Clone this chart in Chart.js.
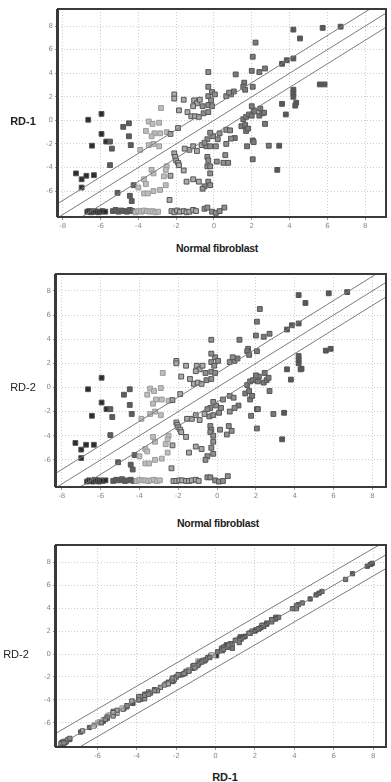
<!DOCTYPE html>
<html>
<head>
<meta charset="utf-8">
<script src="https://cdn.jsdelivr.net/npm/chart.js@4"></script>
<style>
  body { margin: 0; background: #fff; width: 391px; height: 782px; position: relative; overflow: hidden; }
  canvas { position: absolute; left: 0; }
  .lbl { position: absolute; font-family: "Liberation Sans", Arial, sans-serif; color: #222; white-space: nowrap; transform: translate(-50%, -50%); }
  .b { font-weight: bold; }
</style>
</head>
<body>
<canvas id="c1" width="391" height="235" style="top:0px"></canvas>
<canvas id="c2" width="391" height="240" style="top:265px"></canvas>
<canvas id="c3" width="391" height="229" style="top:536px"></canvas>

<div class="lbl b" style="left:23px;top:121px;font-size:11px">RD-1</div>
<div class="lbl b" style="left:217px;top:248px;font-size:10.5px;letter-spacing:-0.3px">Normal fibroblast</div>
<div class="lbl" style="left:23px;top:387px;font-size:11px">RD-2</div>
<div class="lbl b" style="left:218px;top:523px;font-size:10.5px;letter-spacing:-0.3px">Normal fibroblast</div>
<div class="lbl" style="left:16px;top:654px;font-size:11px">RD-2</div>
<div class="lbl b" style="left:225px;top:777px;font-size:11px">RD-1</div>

<script>
// genes: value in normal fibroblast, RD-1, RD-2
const normal = [
  -6.65, -5.95, -5.95, -5.7, -5.5, -5.4, -6.45, -5.5, -7.3, -7.0, -6.75, -6.35, -7.0,
  -4.8, -4.5, -4.5, -4.4, -3.9, -4.25, -5.1, -4.45, -4.35,
  -3.45, -3.25, -2.9, -3.6, -3.15, -2.85, -3.3, -2.5, -2.3, -1.9,
  -3.45, -3.2, -2.9, -2.1, -2.05, -2.0, -1.9, -1.85, -2.5, -2.55,
  -2.3, -2.55, -2.65, -3.3, -3.2, -3.7, -3.6, -3.2, -2.85, -4.0, -3.7, -3.5, -2.35,
  -2.8, -2.1, -2.1, -1.6, -1.85, -1.4, -1.2, -1.0, -0.8, -0.55,
  -0.3, -1.05, -0.9, -0.6, -0.3, -0.1, -1.1, -0.75, -0.3, -0.1, -0.3, -0.3, 0.05, -0.15,
  0.65, 0.9, 1.05, 0.8, 1.15, 1.6, 1.55, 1.65, 2.05, 2.0,
  2.4, 2.7, 2.05, 2.2, 3.6, 3.85, 4.2, 4.2, 4.55, 5.75,
  6.7, 5.6, 5.85, 4.2, 4.2, 4.2, 4.35, 4.3, 3.6, 3.8,
  0.3, 0.65, 0.85, 1.1, 0.9, 1.45, 1.65, 1.7, 1.8, 1.55,
  1.7, 1.85, 2.0, 2.1, 2.15, 2.0, 2.4, 2.55, 2.65, 2.45,
  2.7, 2.05, 2.1, 1.75, 2.05, 2.9, 3.45, 3.35, 0.65, 0.6, 0.15, 0.5, 0.75,
  -1.3, -1.1, -0.9, -0.65, -0.4, -0.2, 0.1, 0.2, -0.05, -0.35,
  -0.2, -0.5, -1.55, -0.35, -0.3, -0.35, -0.2, -0.2, -0.3, -0.2,
  -0.5, -0.6, -1.6, -1.45, -1.1, -0.8,
  -6.7, -6.6, -6.5, -6.4, -6.3, -6.2, -6.1, -6.0, -5.9, -5.75,
  -5.35, -5.2, -5.05, -4.9, -4.75, -4.6, -4.45, -4.3, -4.15, -4.0,
  -3.85, -3.7, -3.55, -3.4, -3.25, -3.1, -2.95,
  -2.25, -2.1, -1.95, -1.8, -1.6, -1.45, -1.3, -1.1, -0.95,
  -0.5, -0.35, -0.1, 0.1, 0.3, 0.55
];
const rd1 = [
  0.05, 0.55, -1.15, -1.8, -1.8, -2.4, -2.15, -3.8, -4.5, -5.0, -4.7, -4.65, -5.7,
  -0.55, -0.25, -1.35, -2.1, -2.5, -5.5, -6.15, -6.4, -6.85,
  -0.1, -0.3, -0.2, -0.9, -1.1, -1.1, -1.35, -1.0, -1.15, -0.65,
  -2.1, -2.0, -2.2, -2.8, -3.1, -3.4, -3.6, -3.8, -3.9, -4.2,
  -4.7, -5.5, -4.75, -4.2, -4.5, -5.0, -5.4, -6.0, -5.9, -5.7, -6.2, -6.2, -6.75,
  1.05, 2.2, 1.85, 1.75, 0.85, 0.7, 0.35, 0.35, 0.3, 0.6,
  0.7, 1.7, 1.45, 1.2, 1.3, 1.2, 1.2, 1.75, 2.05, 2.4, 2.85, 4.1, 2.2, 1.7,
  2.05, 2.2, 2.45, 2.35, 3.9, 3.2, 2.85, 2.6, 2.85, 4.2,
  4.1, 4.4, 5.4, 6.6, 4.8, 5.1, 5.25, 7.7, 6.95, 7.85,
  7.95, 3.05, 3.05, 2.6, 2.3, 2.0, 1.5, 1.25, 1.4, 0.5,
  -1.1, -0.8, -0.85, -1.5, -1.55, -0.5, -0.4, -0.9, -0.7, 0.1,
  0.3, 0.5, 0.4, 0.85, 0.75, 1.2, 0.4, 0.6, 0.65, 1.0,
  -0.3, -1.7, -1.85, -2.2, -3.3, -2.15, -2.15, -4.2, -2.0, -2.95, -3.5, -3.6, -3.6,
  -2.5, -2.2, -2.6, -2.1, -2.2, -2.2, -2.2, -1.6, -1.35, -1.6,
  -1.05, -1.9, -2.4, -3.1, -3.4, -3.9, -3.9, -4.5, -5.2, -5.5,
  -5.6, -5.8, -4.25, -5.2, -5.0, -5.2,
  -7.75, -7.7, -7.8, -7.75, -7.7, -7.75, -7.8, -7.75, -7.7, -7.75,
  -7.7, -7.6, -7.75, -7.65, -7.7, -7.75, -7.6, -7.7, -7.8, -7.7,
  -7.75, -7.65, -7.7, -7.75, -7.7, -7.8, -7.75,
  -7.7, -7.8, -7.65, -7.75, -7.7, -7.8, -7.75, -7.6, -7.7,
  -7.5, -7.4, -7.75, -7.85, -7.7, -7.4
];
const rd2 = [
  -0.15, 0.8, -1.25, -1.8, -1.8, -2.45, -2.35, -3.95, -4.6, -5.15, -4.75, -4.75, -5.85,
  -0.6, -0.15, -1.45, -2.2, -2.6, -5.6, -6.2, -6.4, -6.8,
  -0.1, -0.3, -0.05, -0.6, -1.0, -1.0, -1.35, -1.1, -1.05, -0.55,
  -2.2, -2.0, -2.3, -2.9, -3.1, -3.3, -3.5, -3.7, -4.0, -4.3,
  -4.8, -5.4, -4.7, -4.1, -4.5, -5.1, -5.3, -6.0, -5.9, -5.7, -6.3, -6.3, -6.7,
  1.2, 2.2, 2.0, 1.8, 0.9, 0.7, 0.3, 0.4, 0.3, 0.6,
  0.7, 1.8, 1.5, 1.2, 1.3, 1.2, 1.35, 1.8, 2.1, 2.5, 2.8, 3.95, 2.2, 1.8,
  2.1, 2.2, 2.4, 2.5, 3.95, 3.2, 3.0, 2.7, 3.0, 4.3,
  4.2, 4.45, 5.45, 6.5, 4.8, 5.15, 5.3, 7.65, 7.0, 7.8,
  7.9, 3.05, 3.2, 2.6, 2.3, 2.0, 1.55, 1.5, 1.5, 0.65,
  -1.0, -0.7, -0.85, -1.5, -1.7, -0.5, -0.3, -1.0, -0.7, 0.2,
  0.5, 0.6, 0.6, 0.5, 0.9, 1.0, 0.4, 0.6, 0.8, 1.2,
  -0.3, -1.8, -1.8, -2.35, -3.4, -2.2, -2.1, -4.3, -2.0, -3.2, -3.5, -3.9, -3.6,
  -2.6, -2.3, -2.7, -2.2, -2.4, -2.3, -2.1, -1.7, -1.5, -1.7,
  -1.2, -1.8, -2.6, -3.2, -3.5, -3.7, -4.0, -4.5, -5.0, -5.5,
  -5.7, -6.0, -4.1, -5.4, -4.9, -5.1,
  -7.8, -7.7, -7.75, -7.8, -7.65, -7.7, -7.8, -7.7, -7.75, -7.7,
  -7.75, -7.65, -7.7, -7.6, -7.75, -7.7, -7.65, -7.75, -7.75, -7.65,
  -7.7, -7.7, -7.75, -7.7, -7.65, -7.75, -7.7,
  -7.75, -7.75, -7.7, -7.7, -7.75, -7.75, -7.7, -7.65, -7.75,
  -7.45, -7.45, -7.7, -7.8, -7.75, -7.35
];

const xTicks = [-8, -6, -4, -2, 0, 2, 4, 6, 8];
const xTicks3 = [-6, -4, -2, 0, 2, 4, 6, 8];
const yTicks = [-6, -4, -2, 0, 2, 4, 6, 8];
const bandOffsets = [1.2, 0, -1.2];

// grey shade by level in normal fibroblast
function shade(v) {
  if (v < -5.6) return '#2b2b2b';
  if (v < -4.2) return '#5e5e5e';
  if (v < -2.4) return '#bdbdbd';
  if (v < -0.6) return '#ababab';
  if (v < 1.0) return '#8f8f8f';
  if (v < 3.0) return '#7a7a7a';
  return '#585858';
}

const framePlugin = {
  id: 'frame',
  afterDatasetsDraw(chart) {
    const { ctx, chartArea: a } = chart;
    ctx.save();
    ctx.strokeStyle = '#3a3a3a';
    ctx.lineWidth = 2;
    ctx.strokeRect(a.left, a.top, a.right - a.left, a.bottom - a.top);
    ctx.lineWidth = 3;
    ctx.beginPath();
    ctx.moveTo(a.left - 0.5, a.top);
    ctx.lineTo(a.left - 0.5, a.bottom);
    ctx.stroke();
    ctx.restore();
  }
};

function axis(min, max, ticks, fit) {
  return {
    type: 'linear',
    min: min,
    max: max,
    afterBuildTicks: s => { s.ticks = ticks.map(v => ({ value: v })); },
    afterFit: fit,
    grid: { color: '#cdcdcd', tickColor: '#999', tickLength: 3 },
    border: { display: false, dash: [1, 2] },
    ticks: {
      autoSkip: false, maxRotation: 0, padding: 2,
      color: '#8a8a8a',
      font: { size: 7, family: 'DejaVu Sans' }
    }
  };
}

function makeChart(id, xs, ys, cfg) {
  const pts = xs.map((x, i) => ({ x: x, y: ys[i] }));
  const lines = bandOffsets.map(o => ({
    data: [{ x: -10, y: -10 + o }, { x: 10, y: 10 + o }],
    showLine: true,
    borderColor: '#7c7c7c',
    borderWidth: 1,
    pointRadius: 0
  }));
  new Chart(document.getElementById(id), {
    type: 'scatter',
    data: {
      datasets: [...lines, {
        data: pts,
        pointStyle: 'rect',
        pointRadius: cfg.r,
        backgroundColor: c => shade(cfg.colorBy[c.dataIndex]),
        borderColor: c => shade(cfg.colorBy[c.dataIndex]) === '#bdbdbd' ? '#9a9a9a' : '#555',
        borderWidth: 1
      }]
    },
    options: {
      responsive: false,
      animation: false,
      devicePixelRatio: 1,
      layout: { padding: { top: 9, right: cfg.padRight, left: 0, bottom: 0 } },
      plugins: { legend: { display: false }, tooltip: { enabled: false } },
      scales: {
        x: axis(cfg.xmin, cfg.xmax, cfg.xticks, s => { s.height = 18; }),
        y: axis(cfg.ymin, cfg.ymax, yTicks, s => { s.width = cfg.left; })
      }
    },
    plugins: [framePlugin]
  });
}

makeChart('c1', normal, rd1, {
  xmin: -8.25, xmax: 9.1, ymin: -8.2, ymax: 9.45, xticks: xTicks,
  left: 58, padRight: 1, r: 3.4, colorBy: normal
});
makeChart('c2', normal, rd2, {
  xmin: -8.3, xmax: 8.7, ymin: -8.25, ymax: 9.4, xticks: xTicks,
  left: 56, padRight: 0, r: 3.4, colorBy: normal
});
makeChart('c3', rd1, rd2, {
  xmin: -8.1, xmax: 8.65, ymin: -8.1, ymax: 9.5, xticks: xTicks3,
  left: 56, padRight: 0, r: 3.0, colorBy: normal
});
</script>
</body>
</html>
